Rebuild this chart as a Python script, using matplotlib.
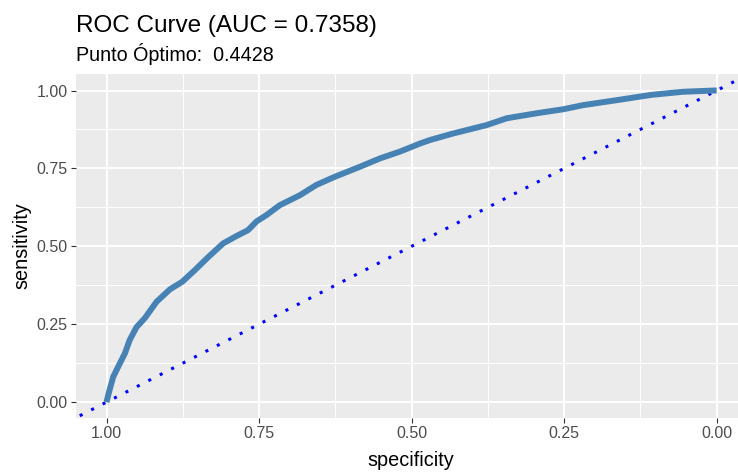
import numpy as np
import matplotlib
matplotlib.use("Agg")
import matplotlib.pyplot as plt

# Data
specificity = [1.0, 0.995, 0.989, 0.981, 0.970, 0.962, 0.951, 0.937, 0.918, 0.896,
               0.876, 0.855, 0.833, 0.809, 0.787, 0.768, 0.754, 0.738, 0.716, 0.683,
               0.656, 0.626, 0.585, 0.552, 0.519, 0.486, 0.470, 0.432, 0.377, 0.344,
               0.295, 0.251, 0.219, 0.164, 0.107, 0.055, 0.003, 0.0]
sensitivity = [0.0, 0.039, 0.081, 0.113, 0.156, 0.199, 0.240, 0.270, 0.322, 0.362,
               0.386, 0.424, 0.466, 0.509, 0.533, 0.552, 0.580, 0.600, 0.632, 0.664,
               0.697, 0.723, 0.755, 0.782, 0.804, 0.830, 0.841, 0.862, 0.889, 0.911,
               0.927, 0.940, 0.953, 0.969, 0.986, 0.996, 1.0, 1.0]
diag_spec = [1.10, -0.10]
diag_sens = [1 - s for s in diag_spec]

tick_vals = [1.00, 0.75, 0.50, 0.25, 0.00]
tick_labels = ["1.00", "0.75", "0.50", "0.25", "0.00"]
minor_vals = [0.875, 0.625, 0.375, 0.125]

title = "ROC Curve (AUC = 0.7358)"
subtitle = "Punto Óptimo:  0.4428"

plt.rcParams['font.family'] = ['Liberation Sans', 'DejaVu Sans']

W, H = 738, 475
fig = plt.figure(figsize=(W / 100, H / 100), dpi=100)
left, right, top, bottom = 76, 738, 74, 418
ax = fig.add_axes([left / W, 1 - bottom / H, (right - left) / W, (bottom - top) / H])
ax.set_facecolor('#EBEBEB')
for s in ax.spines.values():
    s.set_visible(False)

ax.set_xlim(1.05, -0.035)
ax.set_ylim(-0.051, 1.053)

ax.set_xticks(tick_vals)
ax.set_xticklabels(tick_labels)
ax.set_yticks(tick_vals)
ax.set_yticklabels(tick_labels)
ax.set_xticks(minor_vals, minor=True)
ax.set_yticks(minor_vals, minor=True)
ax.grid(True, which='major', color='white', lw=1.4)
ax.grid(True, which='minor', color='white', lw=0.7)
ax.set_axisbelow(True)
ax.tick_params(which='major', length=3.5, width=0.8, color='#333333',
               labelsize=11.5, labelcolor='#4D4D4D', pad=2.5)
ax.tick_params(which='minor', length=0)

ax.plot(diag_spec, diag_sens, color='blue', lw=2.2, linestyle=(0, (1, 3.2)),
        dash_capstyle='butt', zorder=2)
ax.plot(specificity, sensitivity, color='#4682B4', lw=4.3, solid_capstyle='butt',
        solid_joinstyle='round', zorder=3)

ax.set_ylabel("sensitivity", fontsize=14.3, color='black', labelpad=4)
fig.text(411 / W, 1 - 466 / H, "specificity", fontsize=14.3, color='black',
         ha='center', va='baseline')

fig.text(left / W, 1 - 32 / H, title, fontsize=17.5, color='black', ha='left', va='baseline')
fig.text(left / W, 1 - 61 / H, subtitle, fontsize=14.2, color='black', ha='left', va='baseline')

fig.savefig("out.png", dpi=100)
